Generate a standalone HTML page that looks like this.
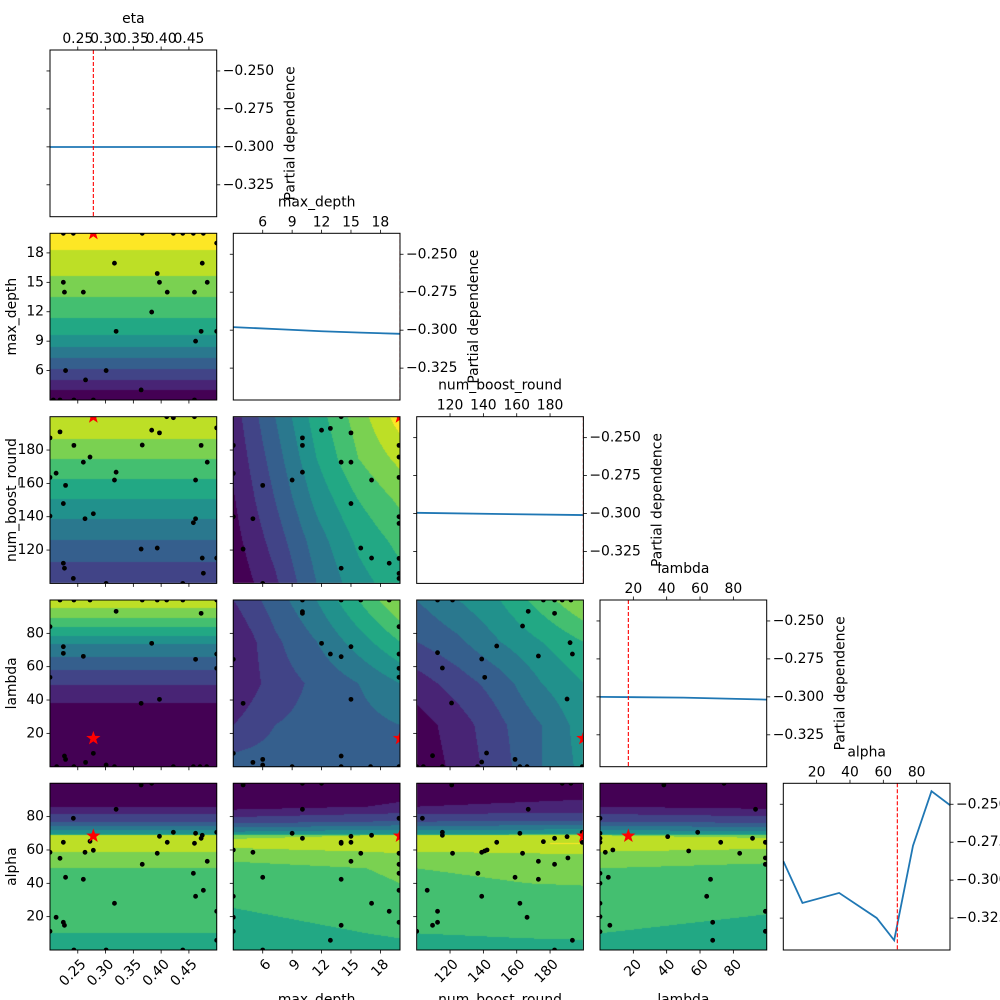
<!DOCTYPE html>
<html><head><meta charset="utf-8">
<style>
html,body{margin:0;padding:0;background:#fff;width:1000px;height:1000px;overflow:hidden;}
#wrap{position:relative;width:1000px;height:1000px;overflow:hidden;}
#cv,#chart{position:absolute;left:0;top:0;}
text{font-family:"DejaVu Sans","Liberation Sans",sans-serif;font-size:13.9px;fill:#000;}
</style></head>
<body>
<div id="wrap">
<canvas id="cv" width="1000" height="1000"></canvas>
<svg id="chart" width="1000" height="1000" xmlns="http://www.w3.org/2000/svg"></svg>
</div>
<script>
// ---------- data ----------
const paramNames = ['eta','max_depth','num_boost_round','lambda','alpha'];
const rangeLo = [0.2, 3, 100, 0, 0];
const rangeHi = [0.5, 20, 200, 100, 100];
const tickVals0 = [0.25,0.30,0.35,0.40,0.45];
const tickVals1 = [6,9,12,15,18];
const tickVals2 = [120,140,160,180];
const tickVals3 = [20,40,60,80];
const tickVals4 = [20,40,60,80];
const tickLab0 = ['0.25','0.30','0.35','0.40','0.45'];
const tickLab1 = ['6','9','12','15','18'];
const tickLab2 = ['120','140','160','180'];
const tickLab3 = ['20','40','60','80'];
const tickLab4 = ['20','40','60','80'];
const pdTickVals = [-0.25,-0.275,-0.3,-0.325];
const pdTickLabs = ['\u22120.250','\u22120.275','\u22120.300','\u22120.325'];
const pdTop = -0.2362, pdBot = -0.3460;
const best = [0.278, 20, 200, 17, 68.4];

// diagonal partial dependence series
const pdEtaX = [0.2, 0.35, 0.5];
const pdEtaY = [-0.3001, -0.3001, -0.3001];
const pdMdX = [3, 8, 12, 16, 20];
const pdMdY = [-0.2980, -0.2995, -0.3007, -0.3016, -0.3024];
const pdNbrX = [100, 150, 200];
const pdNbrY = [-0.2995, -0.3003, -0.3010];
const pdLamX = [0, 50, 100];
const pdLamY = [-0.3000, -0.3005, -0.3018];
const pdAlphaX = [0, 11.5, 33.5, 56, 66.5, 77.8, 88.9, 100];
const pdAlphaY = [-0.2875, -0.3150, -0.3084, -0.3249, -0.3396, -0.2773, -0.2414, -0.2506];

// contour profiles (1D) : parameter value -> level
const mdProfX = [3,4.0,5.06,6.2,7.3,8.4,9.64,11.4,13.55,15.6,18.3,20];
const mdProfV = [0.5,1,2,3,4,5,6,7,8,9,10,10.6];
const nbrProfX = [100,113.1,126.3,138.8,150.9,162.8,174.7,186.9,200];
const nbrProfV = [2.5,3,4,5,6,7,8,9,9.6];
const lamProfX = [0,38,49,58,66,73.4,78.6,84,89,95,100];
const lamProfV = [0.5,1,2,3,4,5,6,7,8,9,9.6];
const alphaProfX = [0,7,10,29,40,49,59,64,68.8,69.5,72,74.5,77,81.6,86,100];
const alphaProfV = [6.5,6.9,7,7.5,7.9,8,9,9.9,9,6,5,4,3,2,1,0.5];
// contour grids (2D) rows top(high y) -> bottom, cols left -> right
const gridNbrMd = [[1.5,4,6.5,8.5,10.5],[1.2,3.5,6,8,9.3],[0.9,3,5.3,7,8.2],[0.6,2.4,4.5,6.2,7.3],[0.2,1.8,4,5.6,6.6]];
const gridLamMd = [[2,3.5,5,7,9],[1,2.8,4,5.5,7],[1,2.5,3.2,4,5],[2,3,3.3,3.6,4],[3.5,3.5,3.5,3.6,3.8]];
const gridLamNbr = [[4,5,6,7.5,9],[3,3.8,5,6,7],[1.5,2.5,3.5,5,6],[0.5,1.5,2.8,4,5.5],[0.3,1.3,2.6,4,5.3]];

// evaluated points per panel
const p10x=[0.224,0.242,0.366,0.422,0.439,0.458,0.476,0.5,0.316,0.474,0.393,0.224,0.397,0.483,0.226,0.26,0.411,0.46,0.383,0.5,0.319,0.472,0.462,0.228,0.301,0.264,0.364,0.206,0.218,0.243,0.278,0.46];
const p10y=[20,20,20,20,20,20,20,19,16.95,16.95,15.9,15,15,15,14,14,14,14,11.97,10,10,10,9,6,6,5.05,4.03,3,3,3,3,3];
const p20x=[0.2,0.218,0.366,0.383,0.397,0.41,0.422,0.46,0.5,0.243,0.472,0.272,0.26,0.483,0.211,0.319,0.2,0.316,0.462,0.228,0.224,0.278,0.263,0.2,0.462,0.458,0.364,0.393,0.474,0.5,0.224,0.226,0.476,0.242,0.301,0.439];
const p20y=[187.3,190.9,183,191.9,190.3,200,199.4,200,193.3,182.8,182.8,175.8,172.7,172.7,166.1,166.7,163.6,162,162,158.8,147.9,141.8,138.8,140.4,138.8,136.4,120.6,121.2,115.2,115.2,112.1,109.1,106.1,103,100,100];
const p30x=[0.218,0.243,0.272,0.366,0.393,0.41,0.439,0.5,0.319,0.472,0.2,0.224,0.224,0.26,0.383,0.462,0.5,0.2,0.5,0.364,0.397,0.226,0.228,0.278,0.264,0.301,0.212,0.243,0.316,0.422,0.458,0.47,0.482];
const p30y=[100,100,100,100,100,100,100,100,93.2,92,84,72,68,66.2,74,64.4,67.6,53.6,59,38,40.4,6.4,4.4,8,2.6,1,0,0,0,0,0,0,0];
const p40x=[0.364,0.383,0.319,0.242,0.272,0.224,0.278,0.263,0.2,0.218,0.397,0.422,0.411,0.462,0.46,0.474,0.472,0.5,0.393,0.483,0.366,0.228,0.26,0.458,0.476,0.462,0.316,0.211,0.224,0.226,0.2,0.5,0.5,0.243,0.301,0.439];
const p40y=[99,100,84.4,79,65.2,64.6,59.8,58.6,58.6,55,68.2,70.6,64.6,70,64,68.8,67,70.6,58,53.2,51.4,43.6,42.4,46,35.8,32.2,28,19.6,16.6,14.8,11.2,23.2,5.8,0,0,0];
const p21x=[14,12,12.9,15,10.05,10.05,3,3,19.9,19.9,19.9,14,15,10.05,9,17.1,6,15,5,3,19.9,19.9,4,16,17.1,18.9,19.9,14,19.9,19.9,6];
const p21y=[200,191.9,193,190.3,187.3,182.8,182.8,166,182.8,175.8,163.6,172.7,172.7,166.7,162,162,158.8,147.9,138.8,140,140,136,120.6,121.2,115.2,112.1,115,109.1,106,103,100];
const p31x=[10.05,14,16,18.9,10.05,10.05,19.9,12,15,12.9,14,19.9,19.9,19.9,3,4,15,3,14,6,5,6,9,14,17,19.9];
const p31y=[100,100,100,100,93,92,84,74,72,67.6,66,67.6,59,53.6,64.4,38,40.4,8,6.4,4.4,2.6,1,0,0,0,0];
const p41x=[4,10.05,12,10.05,19.9,9,10.05,15,17.1,14,14,15,3,5,16,19.9,19.9,19.9,19.9,15,6,14,3,17.1,18.9,3,19.9,14,3,12.9,6];
const p41y=[99,100,100,84.4,79,70,67,68.2,68.8,64.6,64,64.6,60,58.6,58,58,51.4,46,35.8,53.2,43.6,42.4,32.2,28,23.2,19.6,16.6,14.8,11.2,5.8,0];
const p32x=[112.5,121.5,176,182.7,187.3,192.5,166.9,182.7,163.5,148,192,193.4,173,112.5,115.4,139,140.8,190.2,120.9,109.5,141.9,139,159,100,104,115.4,136.5,161.9,166.2,199.3];
const p32y=[100,100,100,100,100,100,93.2,92,84.4,72.4,74.4,67.6,66.4,68.4,59.2,64.6,53.6,40.6,38.2,6.6,8.2,2.8,4.4,0,0,0,0,0,0,0];
const p42x=[121,187.3,192.5,166.9,103.4,115.4,115.4,161.9,182.7,190.2,199.3,199.3,148,176,121.5,139,140.8,142.2,163.5,173,182.7,190.7,136.7,159,173,106.3,139,161.9,112.5,112.5,109.5,100,166.2,193.4,182.7];
const p42y=[99,100,100,84.4,79,70.6,68.8,70,67,68,70.6,64.6,64.6,65,58,58.6,59.4,60,58,53.2,51.4,55.2,46,43.6,42.4,35.8,32.2,28,23.2,16.6,14.8,11.2,19.6,5.8,0];
const p43x=[38.3,74.4,93.3,0,40.6,58.6,91.5,99.2,72.4,0,0,0,3.2,7.7,53.2,83.8,99.2,99.2,5,66.3,64,0,0,0,67.6,5.9,99.2,99.2,67.6,0,0];
const p43y=[99,100,84.4,79,68,70.6,67,64.6,64.6,70,67,64.6,58.6,60,59.4,58,55.2,51.4,43.6,42.4,32.2,46,40,28,16.6,14.8,23.2,11.2,5.8,20,11];

const viridis = ['#440154','#482475','#414487','#355f8d','#2a788e','#21918c','#22a884','#44bf70','#7ad151','#bddf26','#fde725'];

// ---------- geometry ----------
const colX = [50, 233.3, 416.7, 600, 783.3];
const rowY = [50, 233.3, 416.7, 600, 783.3];
const W = 166.7, H = 166.7;
function xPx(c, v){ return colX[c] + (v - rangeLo[c])/(rangeHi[c]-rangeLo[c])*W; }
function yPx(r, v){ return rowY[r] + H - (v - rangeLo[r])/(rangeHi[r]-rangeLo[r])*H; }
function pdPx(r, v){ return rowY[r] + (pdTop - v)/(pdTop - pdBot)*H; }
const tickVals = [tickVals0,tickVals1,tickVals2,tickVals3,tickVals4];
const tickLabs = [tickLab0,tickLab1,tickLab2,tickLab3,tickLab4];

function interp1(xs, vs, x){
  if (x <= xs[0]) return vs[0];
  for (let i=1;i<xs.length;i++){ if (x <= xs[i]){ const t=(x-xs[i-1])/(xs[i]-xs[i-1]); return vs[i-1]+t*(vs[i]-vs[i-1]); } }
  return vs[vs.length-1];
}
function bilin(g, u, w){
  const n=g.length-1, m=g[0].length-1;
  const fy=w*n, fx=u*m; let i=Math.min(Math.floor(fy),n-1), j=Math.min(Math.floor(fx),m-1);
  const ty=fy-i, tx=fx-j;
  const a=g[i][j]+(g[i][j+1]-g[i][j])*tx, b=g[i+1][j]+(g[i+1][j+1]-g[i+1][j])*tx;
  return a+(b-a)*ty;
}
// ---------- contours ----------
const fields = [
  {r:1,c:0,f:(x,y,u,w)=>interp1(mdProfX,mdProfV,y)},
  {r:2,c:0,f:(x,y,u,w)=>interp1(nbrProfX,nbrProfV,y)},
  {r:3,c:0,f:(x,y,u,w)=>interp1(lamProfX,lamProfV,y)},
  {r:4,c:0,f:(x,y,u,w)=>interp1(alphaProfX,alphaProfV,y)},
  {r:2,c:1,f:(x,y,u,w)=>bilin(gridNbrMd,u,w)},
  {r:3,c:1,f:(x,y,u,w)=>bilin(gridLamMd,u,w)},
  {r:3,c:2,f:(x,y,u,w)=>bilin(gridLamNbr,u,w)},
  {r:4,c:1,f:(x,y,u,w)=>interp1(alphaProfX,alphaProfV,y)-0.4+0.5*u},
  {r:4,c:2,f:(x,y,u,w)=>interp1(alphaProfX,alphaProfV,y)+0.15*u},
  {r:4,c:3,f:(x,y,u,w)=>interp1(alphaProfX,alphaProfV,y)-0.3*u}
];
const rgb = viridis.map(h=>[parseInt(h.slice(1,3),16),parseInt(h.slice(3,5),16),parseInt(h.slice(5,7),16)]);
const cv=document.getElementById('cv'), ctx=cv.getContext('2d');
ctx.fillStyle='#fff'; ctx.fillRect(0,0,1000,1000);
const img=ctx.getImageData(0,0,1000,1000);
fields.forEach(F=>{
  const x0=Math.round(colX[F.c]), y0=Math.round(rowY[F.r]), x1=Math.round(colX[F.c]+W), y1=Math.round(rowY[F.r]+H);
  for(let py=y0;py<y1;py++){
    const w=(py+0.5-rowY[F.r])/H; const yv=rangeHi[F.r]-w*(rangeHi[F.r]-rangeLo[F.r]);
    for(let px=x0;px<x1;px++){
      const u=(px+0.5-colX[F.c])/W; const xv=rangeLo[F.c]+u*(rangeHi[F.c]-rangeLo[F.c]);
      let lv=Math.floor(F.f(xv,yv,u,w)); lv=Math.max(0,Math.min(10,lv));
      const k=(py*1000+px)*4, col=rgb[lv];
      img.data[k]=col[0]; img.data[k+1]=col[1]; img.data[k+2]=col[2]; img.data[k+3]=255;
    }
  }
});
ctx.putImageData(img,0,0);

// ---------- svg ----------
const NS='http://www.w3.org/2000/svg';
const svg=document.getElementById('chart');
function mk(tag, parent){ const e=document.createElementNS(NS,tag); parent.appendChild(e); return e; }

function addText(str,x,y,anchor,baseline,transform,name){
  const t=mk('text',svg);
  t.setAttribute('x',x); t.setAttribute('y',y);
  t.setAttribute('text-anchor',anchor); t.setAttribute('dominant-baseline',baseline);
  if(transform) t.setAttribute('transform',transform);
  t.textContent=str;
  
  
  return t;
}
function addTick(x1,y1,x2,y2){
  const l=mk('line',svg);
  l.setAttribute('x1',x1);l.setAttribute('y1',y1);l.setAttribute('x2',x2);l.setAttribute('y2',y2);
  l.setAttribute('stroke','#000');l.setAttribute('stroke-width','0.8');
  
  
}
function starPts(cx,cy,ro,ri){
  let s=''; for(let i=0;i<10;i++){ const r=i%2?ri:ro; const a=-Math.PI/2+i*Math.PI/5; s+=(cx+r*Math.cos(a)).toFixed(2)+','+(cy+r*Math.sin(a)).toFixed(2)+' '; } return s;
}
const pointSets = {'1,0':[p10x,p10y],'2,0':[p20x,p20y],'3,0':[p30x,p30y],'4,0':[p40x,p40y],'2,1':[p21x,p21y],'3,1':[p31x,p31y],'4,1':[p41x,p41y],'3,2':[p32x,p32y],'4,2':[p42x,p42y],'4,3':[p43x,p43y]};
const pdSeries = [[pdEtaX,pdEtaY],[pdMdX,pdMdY],[pdNbrX,pdNbrY],[pdLamX,pdLamY],[pdAlphaX,pdAlphaY]];

for(let r=0;r<5;r++){
  for(let c=0;c<=r;c++){
    const L=colX[c], T=rowY[r], R=L+W, B=T+H;
    const cp=mk('clipPath',svg); cp.setAttribute('id','clip'+r+c);
    const cr=mk('rect',cp); cr.setAttribute('x',L);cr.setAttribute('y',T);cr.setAttribute('width',W);cr.setAttribute('height',H);
    const g=mk('g',svg); g.setAttribute('clip-path','url(#clip'+r+c+')');
    
    
    if(r===c){
      const [xs,ys]=pdSeries[r];
      const pl=mk('polyline',g);
      pl.setAttribute('points',xs.map((v,i)=>xPx(c,v).toFixed(2)+','+pdPx(r,ys[i]).toFixed(2)).join(' '));
      pl.setAttribute('fill','none');pl.setAttribute('stroke','#1f77b4');pl.setAttribute('stroke-width','1.8');
      
      
      const bx=xPx(c,best[c]);
      const rl=mk('line',g);
      rl.setAttribute('x1',bx);rl.setAttribute('x2',bx);rl.setAttribute('y1',T);rl.setAttribute('y2',B);
      rl.setAttribute('stroke','#ff0000');rl.setAttribute('stroke-width','1.1');rl.setAttribute('stroke-dasharray','4,2');
      
      
      tickVals[c].forEach((v,i)=>{ const x=xPx(c,v); addTick(x,T,x,T-3.5); addText(tickLabs[c][i],x,T-7,'middle','auto',null,'top-tick-label'); });
      addText(paramNames[c],L+W/2,T-27,'middle','auto',null,'top-axis-title');
      pdTickVals.forEach((v,i)=>{ const y=pdPx(r,v); addTick(R,y,R+3.5,y); addTick(L,y,L-3.5,y); addText(pdTickLabs[i],R+6,y,'start','central',null,'right-tick-label'); });
      addText('Partial dependence',R+74,T+H/2,'middle','central','rotate(-90 '+(R+74)+' '+(T+H/2)+')','y-axis-title');
    } else {
      const ps=pointSets[r+','+c];
      ps[0].forEach((v,i)=>{
        const d=mk('circle',g);
        d.setAttribute('cx',xPx(c,v).toFixed(2)); d.setAttribute('cy',yPx(r,ps[1][i]).toFixed(2)); d.setAttribute('r','2.4'); d.setAttribute('fill','#000');
        
        
      });
      const st=mk('polygon',g);
      st.setAttribute('points',starPts(xPx(c,best[c]),yPx(r,best[r]),7.5,3));
      st.setAttribute('fill','#ff0000');
      
      
      tickVals[c].forEach((v,i)=>{ const x=xPx(c,v); addTick(x,B,x,B+3.5);
        if(r===4){ addText(tickLabs[c][i],x+6,B+12,'end','central','rotate(-45 '+(x+6)+' '+(B+12)+')','bottom-tick-label'); } });
      tickVals[r].forEach((v,i)=>{ const y=yPx(r,v); addTick(L,y,L-3.5,y);
        if(c===0){ addText(tickLabs[r][i],L-6,y,'end','central',null,'left-tick-label'); } });
      if(r===4){ addText(paramNames[c],L+W/2,c===0?1010:1004,'middle','auto',null,'x-axis-title'); }
      if(c===0){ addText(paramNames[r],12,T+H/2,'middle','central','rotate(-90 12 '+(T+H/2)+')','y-axis-title'); }
    }
    const fr=mk('rect',svg);
    fr.setAttribute('x',L);fr.setAttribute('y',T);fr.setAttribute('width',W);fr.setAttribute('height',H);
    fr.setAttribute('fill','none');fr.setAttribute('stroke','#000');fr.setAttribute('stroke-width','1');
    
    
  }
}
</script>
</body></html>
